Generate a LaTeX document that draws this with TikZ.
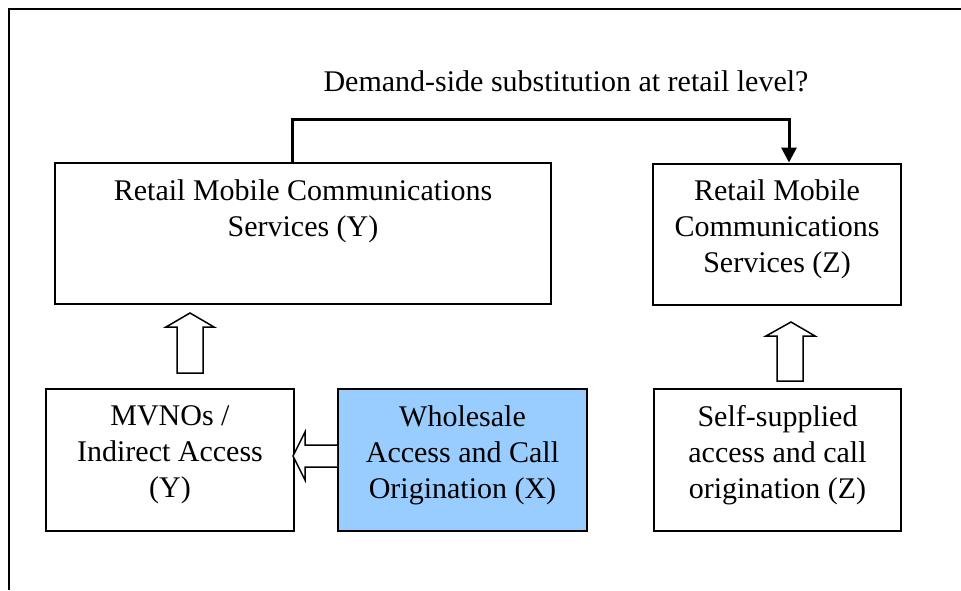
\documentclass[tikz,border=0pt]{standalone}
\usepackage{fontspec}
\setmainfont{Liberation Serif}
\usetikzlibrary{arrows.meta}
\definecolor{wsblue}{HTML}{99CCFF}
\tikzset{
  box/.style={draw=black, line width=2pt, inner sep=0pt},
  lbl/.style={anchor=north, align=center, inner sep=0pt, font=\fontsize{30}{36}\selectfont},
  blockarrow/.style={draw=black, line width=1.5pt, fill=white, line join=miter},
  conn/.style={line width=3pt, -{Triangle[length=15pt,width=15pt]}}
}
\begin{document}
\begin{tikzpicture}[x=1pt,y=-1pt]
\useasboundingbox (0,0) rectangle (961,590);
% frame
\draw[line width=2.5pt] (9,590) -- (9,9) -- (961,9);
% boxes
\node[box, minimum width=496pt, minimum height=141pt] (ry) at (303,233.5) {};
\node[box, minimum width=248pt, minimum height=141pt] (rz) at (777,234) {};
\node[box, minimum width=248pt, minimum height=142pt] (mv) at (170,460) {};
\node[box, fill=wsblue, minimum width=249pt, minimum height=142pt] (ws) at (462.5,460) {};
\node[box, minimum width=247pt, minimum height=142pt] (ss) at (777.5,460) {};
% labels
\node[lbl] (tq) at (566,70) {Demand-side substitution at retail level?};
\node[lbl] (try) at ([yshift=-17pt]ry.north) {Retail Mobile Communications\\Services (Y)};
\node[lbl] (trz) at ([yshift=-17pt]rz.north) {Retail Mobile\\Communications\\Services (Z)};
\node[lbl] (tmv) at ([yshift=-17.5pt]mv.north) {MVNOs /\\Indirect Access\\(Y)};
\node[lbl] (tws) at ([yshift=-17.5pt]ws.north) {Wholesale\\Access and Call\\Origination (X)};
\node[lbl] (tss) at ([yshift=-17.5pt]ss.north) {Self-supplied\\access and call\\origination (Z)};
% connector
\coordinate (cs) at ([xshift=238pt]ry.north west);
\coordinate (ce) at ([xshift=12pt]rz.north);
\draw[conn] (cs) -- ++(0,-43) -| (ce);
% block arrows
\draw[blockarrow] (190,313) -- (214,327) -- (203,327) -- (203,373) -- (177,373) -- (177,327) -- (166,327) -- cycle;
\draw[blockarrow] (791,322) -- (815,336) -- (803,336) -- (803,381) -- (777,381) -- (777,336) -- (766,336) -- cycle;
\draw[blockarrow] (ws.west |- 0,445) -- (305,445) -- (305,432) -- (293,456) -- (305,480) -- (305,467) -- (ws.west |- 0,467);
\end{tikzpicture}
\end{document}
